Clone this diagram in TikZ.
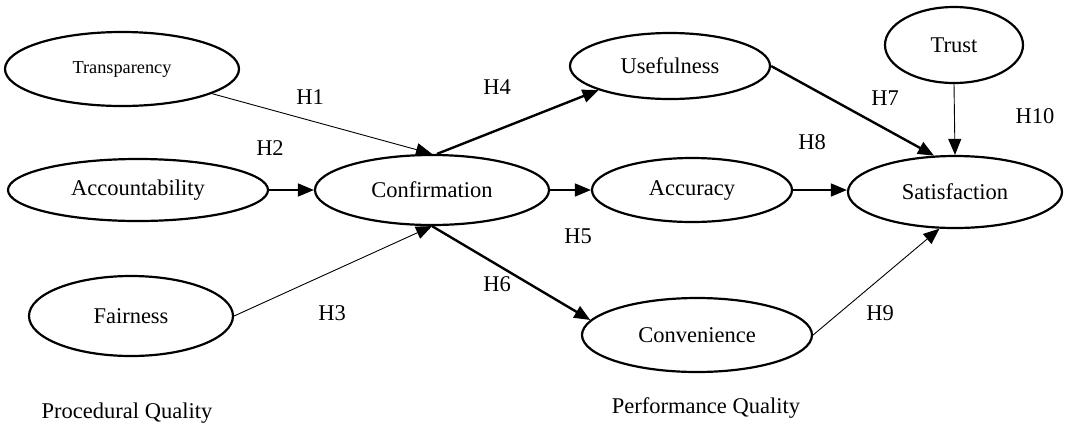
\documentclass[tikz,border=0pt]{standalone}
\usepackage{fontspec}
\setmainfont{Liberation Serif}
\usetikzlibrary{shapes.geometric,arrows.meta}
\tikzset{
  construct/.style={draw,ellipse,line width=2.2pt,inner sep=0pt,font=\fontsize{22.5}{26}\selectfont},
  thinarrow/.style={line width=0.9pt,-{Triangle[length=16pt,width=13pt]}},
  medarrow/.style={line width=1.5pt,-{Triangle[length=16pt,width=13pt]}},
  thickarrow/.style={line width=2.4pt,-{Triangle[length=16pt,width=13pt]}},
  hlab/.style={font=\fontsize{22.5}{26}\selectfont,inner sep=0pt},
}
\begin{document}
\begin{tikzpicture}[x=1pt,y=-1pt]
\useasboundingbox (0,0) rectangle (1065,429);
% constructs
\node[construct,minimum width=234pt,minimum height=74pt,font=\fontsize{18.3}{21}\selectfont] (trans) at (122,69) {Transparency};
\node[construct,minimum width=260pt,minimum height=62pt] (acct) at (138,190) {Accountability};
\node[construct,minimum width=204pt,minimum height=80pt] (fair) at (131,316) {Fairness};
\node[construct,minimum width=234pt,minimum height=70pt] (conf) at (432,190) {Confirmation};
\node[construct,minimum width=200pt,minimum height=66pt] (usef) at (670,66) {Usefulness};
\node[construct,minimum width=200pt,minimum height=64pt] (accu) at (692,190) {Accuracy};
\node[construct,minimum width=230pt,minimum height=74pt] (conv) at (697,335) {Convenience};
\node[construct,minimum width=138pt,minimum height=76pt] (trust) at (954,45) {Trust};
\node[construct,minimum width=214pt,minimum height=72pt] (sat) at (955,192) {Satisfaction};
% connectors
\draw[thinarrow] (trans) -- (conf.north);
\draw[medarrow] (acct.east) -- (conf.west);
\draw[thinarrow] (fair.east) -- (conf.south);
\draw[thickarrow] ([xshift=5pt]conf.north) -- (usef.south west);
\draw[medarrow] (conf.east) -- (accu.west);
\draw[thickarrow] (conf.south) -- (conv.172);
\draw[thickarrow] (usef.east) -- (sat.120);
\draw[thinarrow] (trust.south) -- (sat.north);
\draw[medarrow] (accu.east) -- (sat.west |- accu.east);
\draw[thinarrow] (conv.east) -- (sat.247);
% labels
\node[hlab] (h1) at (310,97) {H1};
\node[hlab] (h2) at (270,148) {H2};
\node[hlab] (h3) at (332,313) {H3};
\node[hlab] (h4) at (497,87) {H4};
\node[hlab] (h5) at (578,236) {H5};
\node[hlab] (h6) at (497,284) {H6};
\node[hlab] (h7) at (885,98) {H7};
\node[hlab] (h8) at (812,142) {H8};
\node[hlab] (h9) at (880,313) {H9};
\node[hlab] (h10) at (1035,116) {H10};
\node[hlab] (pq) at (127,413) {Procedural Quality};
\node[hlab] (pfq) at (706,408) {Performance Quality};
\end{tikzpicture}
\end{document}
